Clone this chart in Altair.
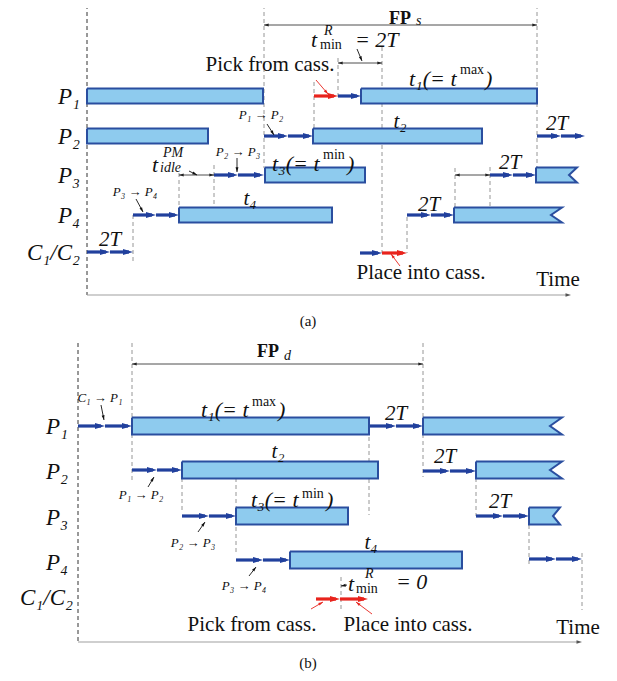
import math
import altair as alt
import pandas as pd

# ---------------------------------------------------------------------------
# Diagram data: horizontal = time, vertical = resource rows (chart units)
# ---------------------------------------------------------------------------
# Processing blocks: (row centre, t_start, t_end, depth of cut "<" end or 0)
BLOCKS_A = [(96, 87, 263, 0), (96, 361, 537, 0), (136, 87, 208, 0),
            (136, 313, 482, 0), (175, 265, 365, 0), (175, 536, 577, 8),
            (215, 179, 332, 0), (215, 454, 562, 11)]
BLOCKS_B = [(426, 132, 369, 0), (426, 423, 562, 12), (470, 182, 378, 0),
            (470, 476, 562, 12), (516, 236, 348, 0), (516, 529, 560, 7),
            (560, 290, 462, 0)]
HALF_A, HALF_B = 7.5, 8.5

# Robot move segments: (row, t_start, t_end, colour key)
MOVES = [
    # (a)
    (252, 87, 110, "b"), (252, 110, 133, "b"),
    (215, 133, 156, "b"), (215, 156, 179, "b"),
    (175, 214, 238, "b"), (175, 238, 264, "b"),
    (136, 264, 288, "b"), (136, 288, 313, "b"),
    (96, 314, 338, "r"), (96, 338, 361, "b"),
    (136, 537, 561, "b"), (136, 561, 585, "b"),
    (175, 490, 513, "b"), (175, 513, 536, "b"),
    (215, 407, 431, "b"), (215, 431, 454, "b"),
    (253, 360, 382, "b"), (253, 382, 407, "r"),
    # (b)
    (426, 78, 105, "b"), (426, 105, 132, "b"),
    (470, 132, 157, "b"), (470, 157, 182, "b"),
    (516, 182, 209, "b"), (516, 209, 236, "b"),
    (560, 236, 263, "b"), (560, 263, 290, "b"),
    (426, 370, 396, "b"), (426, 396, 423, "b"),
    (471, 423, 450, "b"), (471, 450, 476, "b"),
    (516, 476, 503, "b"), (516, 503, 529, "b"),
    (559, 529, 556, "b"), (559, 556, 582, "b"),
    (599, 316, 340, "r"), (599, 340, 368, "r"),
]

# Dashed time guides: (t, y_from, y_to)
GUIDES = [(264, 5, 168), (314, 82, 128), (338, 58, 100), (382, 47, 253),
          (537, 5, 168), (179, 173, 207), (214, 165, 205), (133, 215, 262),
          (407, 217, 253), (455, 168, 208), (490, 167, 212),
          (132, 343, 480), (182, 478, 510), (236, 478, 555), (369, 437, 515),
          (423, 343, 477), (476, 478, 516), (529, 525, 565), (582, 553, 610),
          (341, 577, 612)]
START_LINES = [(87, 5, 295), (78, 343, 642)]

# Time axes: (y, t_from, t_to)
TIME_AXES = [(295, 87, 571), (642, 78, 582)]

# Two-headed dimension arrows: (y, t_from, t_to)
DIMENSIONS = [(25, 264, 537), (63, 338, 382), (175, 179, 214),
              (175, 455, 490), (364, 132, 423)]

# Small pointer arrows: (x0, y0, x1, y1, colour key)
POINTERS = [(316, 80, 328, 94, "r"), (357, 49, 362, 61, "k"),
            (267, 124, 274, 135, "k"), (237, 158, 237, 172, "k"),
            (189, 171, 197, 175, "k"), (136, 199, 143, 212, "k"),
            (400, 266, 391, 254, "r"),
            (101, 405, 104, 420, "k"), (148, 487, 154, 477, "k"),
            (198, 532, 205, 522, "k"), (249, 576, 256, 567, "k"),
            (311, 609, 323, 602, "r"), (372, 614, 356, 602, "r"),
            (347, 585, 341, 586, "k")]

# Text
ROW_LABELS = [(80, 97, "P₁"), (80, 137, "P₂"), (80, 176, "P₃"),
              (80, 216, "P₄"), (80, 253, "C₁/C₂"),
              (68, 427, "P₁"), (68, 472, "P₂"), (68, 518, "P₃"),
              (68, 563, "P₄"), (73, 598, "C₁/C₂")]
MATH_CENTER = [(110, 240, "2T"), (250, 199, "t₄"), (400, 122, "t₂"),
               (557, 124, "2T"), (510, 163, "2T"), (429, 205, "2T"),
               (278, 452, "t₂"), (396, 414, "2T"), (445, 457, "2T"),
               (500, 502, "2T"), (371, 543, "t₄")]
MATH_LEFT = [(409, 79, "t₁(= t"), (485, 79, ")"), (272, 164, "t₃(= t"),
             (347, 164, ")"), (311, 40, "t"), (355, 40, "= 2T"),
             (152, 165, "t"),
             (201, 410, "t₁(= t"), (278, 410, ")"), (251, 500, "t₃(= t"),
             (326, 500, ")"), (348, 584, "t"), (396, 582, "= 0")]
SCRIPT_ITALIC = [(324, 31, "R"), (163, 153, "PM"), (160, 168, "idle"),
                 (416, 21, "s"), (365, 574, "R"), (284, 356, "d")]
SCRIPT_ROMAN = [(460, 70, "max"), (323, 155, "min"), (320, 45, "min"),
                (252, 402, "max"), (302, 494, "min"), (356, 589, "min")]
SMALL_LABELS = [(261, 115, "P₁ → P₂"), (238, 152, "P₂ → P₃"),
                (135, 192, "P₃ → P₄"), (100, 398, "C₁ → P₁"),
                (141, 495, "P₁ → P₂"), (193, 543, "P₂ → P₃"),
                (244, 586, "P₃ → P₄")]
PROSE = [(270, 65, "Pick from cass."), (421, 273, "Place into cass."),
         (558, 280, "Time"), (252, 625, "Pick from cass."),
         (408, 625, "Place into cass."), (578, 628, "Time")]
CAPTIONS = [(308, 321, "(a)"), (308, 663, "(b)")]
BOLD = [(400, 19, "FP"), (268, 352, "FP")]

# ---------------------------------------------------------------------------
COLOURS = {"b": "#21409d", "r": "#e8231c", "k": "#111111", "g": "#9a9a9a"}
FILL = "#8ecbee"
EDGE = "#2a4e9f"
SERIF = "Liberation Serif"
HEAD = "M0,0L-2,-0.62L-2,0.62Z"   # arrow head, tip at the anchor point

xs = alt.Scale(domain=[8, 609], nice=False, zero=False)
ys = alt.Scale(domain=[8, 673], nice=False, zero=False, reverse=True)


def X(f):
    return alt.X(f, type="quantitative", scale=xs, axis=None)


def Y(f):
    return alt.Y(f, type="quantitative", scale=ys, axis=None)


# blocks --------------------------------------------------------------------
rects, notches, outline = [], [], []
for panel, blocks, half in (("a", BLOCKS_A, HALF_A), ("b", BLOCKS_B, HALF_B)):
    for i, (yc, t0, t1, cut) in enumerate(blocks):
        bid = f"{panel}{i}"
        top, bot = yc - half, yc + half
        rects.append(dict(x=t0, x2=t1, y=top, y2=bot))
        if cut:
            notches += [dict(id=bid, x=t1 - cut, y=yc, y2=yc),
                        dict(id=bid, x=t1 + 0.6, y=top, y2=bot)]
            pts = [(t0, top), (t1, top), (t1 - cut, yc), (t1, bot), (t0, bot), (t0, top)]
        else:
            pts = [(t0, top), (t1, top), (t1, bot), (t0, bot), (t0, top)]
        outline += [dict(id=bid, k=k, x=px, y=py) for k, (px, py) in enumerate(pts)]

rect_layer = alt.Chart(pd.DataFrame(rects)).mark_rect(color=FILL).encode(
    x=X("x"), x2="x2", y=Y("y"), y2="y2")
notch_layer = alt.Chart(pd.DataFrame(notches)).mark_area(
    color="white", orient="vertical").encode(
    x=X("x"), y=Y("y"), y2="y2", detail="id:N")
outline_layer = alt.Chart(pd.DataFrame(outline)).mark_line(
    color=EDGE, strokeWidth=2, strokeJoin="miter").encode(
    x=X("x"), y=Y("y"), detail="id:N", order="k:Q")

# guides --------------------------------------------------------------------
guide_layer = alt.Chart(pd.DataFrame(GUIDES, columns=["x", "y", "y2"])).mark_rule(
    color="#8a8a8a", strokeWidth=0.9, strokeDash=[4, 3]).encode(
    x=X("x"), y=Y("y"), y2="y2")
start_layer = alt.Chart(pd.DataFrame(START_LINES, columns=["x", "y", "y2"])).mark_rule(
    color="#333333", strokeWidth=1, strokeDash=[4, 3]).encode(
    x=X("x"), y=Y("y"), y2="y2")

# arrows --------------------------------------------------------------------
seg_rows, head_rows = [], []
for y, t0, t1, c in MOVES:
    seg_rows.append(dict(x=t0, x2=t1 - 4, y=y, y2=y, c=COLOURS[c], w=3.2))
    head_rows.append(dict(x=t1, y=y, ang=0, c=COLOURS[c], s=100))
for y, t0, t1 in TIME_AXES:
    seg_rows.append(dict(x=t0, x2=t1 - 3, y=y, y2=y, c="#a0a0a0", w=1.2))
    head_rows.append(dict(x=t1, y=y, ang=0, c="#555555", s=30))
for y, t0, t1 in DIMENSIONS:
    seg_rows.append(dict(x=t0, x2=t1, y=y, y2=y, c="#222222", w=0.8))
    head_rows.append(dict(x=t0, y=y, ang=180, c="#222222", s=22))
    head_rows.append(dict(x=t1, y=y, ang=0, c="#222222", s=22))
for x0, y0, x1, y1, c in POINTERS:
    seg_rows.append(dict(x=x0, x2=x1, y=y0, y2=y1, c=COLOURS[c], w=0.9))
    ang = math.degrees(math.atan2(y1 - y0, x1 - x0)) % 360
    head_rows.append(dict(x=x1, y=y1, ang=ang, c=COLOURS[c], s=22))

seg_layer = alt.Chart(pd.DataFrame(seg_rows)).mark_rule().encode(
    x=X("x"), x2="x2", y=Y("y"), y2="y2",
    color=alt.Color("c:N", scale=None),
    strokeWidth=alt.StrokeWidth("w:Q", scale=None))
head_layer = alt.Chart(pd.DataFrame(head_rows)).mark_point(
    shape=HEAD, filled=True, opacity=1, strokeWidth=0).encode(
    x=X("x"), y=Y("y"),
    angle=alt.Angle("ang:Q", scale=None),
    size=alt.Size("s:Q", scale=None),
    color=alt.Color("c:N", scale=None))


# text ----------------------------------------------------------------------
def text_layer(rows, size, align="center", style="normal", weight="normal"):
    df = pd.DataFrame(rows, columns=["x", "y", "t"])
    return alt.Chart(df).mark_text(
        font=SERIF, fontSize=size, fontStyle=style, fontWeight=weight,
        align=align, baseline="middle", color="#111111").encode(
        x=X("x"), y=Y("y"), text="t:N")


texts = [
    text_layer(ROW_LABELS, 23, "right", "italic"),
    text_layer(MATH_CENTER, 21, "center", "italic"),
    text_layer(MATH_LEFT, 22, "left", "italic"),
    text_layer(SCRIPT_ITALIC, 14, "left", "italic"),
    text_layer(SCRIPT_ROMAN, 14, "left"),
    text_layer(SMALL_LABELS, 13, "center", "italic"),
    text_layer(PROSE, 21, "center"),
    text_layer(CAPTIONS, 15, "center"),
    text_layer(BOLD, 18, "center", "normal", "bold"),
]

chart = alt.layer(
    start_layer, guide_layer, rect_layer, notch_layer, outline_layer,
    seg_layer, head_layer, *texts
).properties(
    width=601, height=665,
    autosize=alt.AutoSizeParams(type="none"), padding=0
).configure_view(stroke=None)

chart.save("out.html", embed_options={"renderer": "svg", "actions": False})
